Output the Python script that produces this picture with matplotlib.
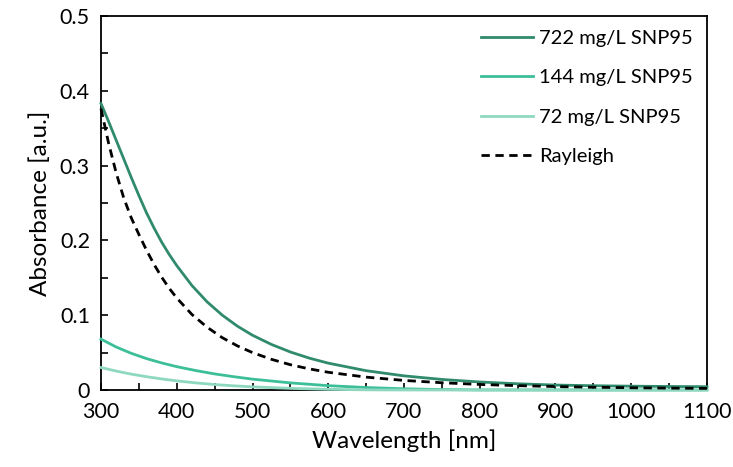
import numpy as np
import matplotlib.pyplot as plt
from matplotlib.ticker import MultipleLocator, FuncFormatter

plt.rcParams['font.family'] = ['Lato', 'DejaVu Sans']

# wavelength grids (nm)
wl = [300, 310, 320, 330, 340, 350, 360, 370, 380, 390, 400, 420, 440, 460, 480,
      500, 525, 550, 575, 600, 650, 700, 750, 800, 850, 900, 950, 1000, 1050, 1100]
wl_low = [300, 320, 340, 360, 380, 400, 425, 450, 475, 500, 550, 600, 650, 700,
          750, 800, 900, 1000, 1100]

# absorbance
abs_722 = [0.383, 0.359, 0.334, 0.309, 0.284, 0.260, 0.237, 0.2166, 0.1978, 0.1813,
           0.1663, 0.1397, 0.1179, 0.1001, 0.0854, 0.0732, 0.0609, 0.0508, 0.0426,
           0.0359, 0.0258, 0.0189, 0.0141, 0.0107, 0.0083, 0.0066, 0.0057, 0.0051,
           0.0047, 0.0044]
rayleigh = [0.376, 0.330, 0.2904, 0.2568, 0.230, 0.208, 0.187, 0.168, 0.151, 0.136,
            0.123, 0.101, 0.084, 0.070, 0.059, 0.050, 0.041, 0.0338, 0.0282, 0.0237,
            0.0172, 0.0128, 0.0097, 0.0074, 0.0058, 0.0046, 0.0037, 0.0030, 0.0025,
            0.0021]
abs_144 = [0.068, 0.0575, 0.049, 0.042, 0.0362, 0.0312, 0.026, 0.0215, 0.0178, 0.0145,
           0.0095, 0.0058, 0.0033, 0.0016, 0.0006, 0.0001, 0.0, 0.0, 0.0]
abs_72 = [0.030, 0.0253, 0.0212, 0.0178, 0.0148, 0.0122, 0.0095, 0.0073, 0.0056, 0.0042,
          0.0022, 0.0009, 0.0002, 0.0, 0.0, 0.0, 0.0, 0.0, 0.0]

fig = plt.figure(figsize=(7.33, 4.67), dpi=100)
ax = fig.add_axes([0.1378, 0.1649, 0.8267, 0.8008])

lw = 2.0
ax.plot(wl, abs_722, color='#2F8A6E', lw=lw, label='722 mg/L SNP95', zorder=4, clip_on=False)
ax.plot(wl_low, abs_144, color='#3CBF98', lw=lw, label='144 mg/L SNP95', zorder=4, clip_on=False)
ax.plot(wl_low, abs_72, color='#8ED8BF', lw=lw, label='72 mg/L SNP95', zorder=4, clip_on=False)
ax.plot(wl, rayleigh, color='black', lw=lw, ls=(0, (3, 2)), label='Rayleigh', zorder=5, clip_on=False)

ax.set_xlim(300, 1100)
ax.set_ylim(0, 0.5)
ax.xaxis.set_major_locator(MultipleLocator(100))
ax.xaxis.set_minor_locator(MultipleLocator(50))
ax.yaxis.set_major_locator(MultipleLocator(0.1))
ax.yaxis.set_minor_locator(MultipleLocator(0.05))
ax.yaxis.set_major_formatter(FuncFormatter(lambda v, p: '0' if abs(v) < 1e-9 else f'{v:.1f}'))

ax.tick_params(which='both', direction='in', top=False, right=False, width=1.2,
               length=5, labelsize=15.5, colors='black')
ax.tick_params(axis='x', pad=9)
ax.tick_params(axis='y', pad=8)
for s in ax.spines.values():
    s.set_linewidth(1.3)

ax.set_xlabel('Wavelength [nm]', fontsize=17.5, labelpad=5)
ax.set_ylabel('Absorbance [a.u.]', fontsize=17.5, labelpad=6)

ax.legend(loc='upper right', frameon=False, fontsize=14.5, handlelength=2.6,
          handletextpad=0.3, labelspacing=1.1, borderaxespad=0.3, borderpad=0.4)

fig.savefig('out.png', dpi=100)
